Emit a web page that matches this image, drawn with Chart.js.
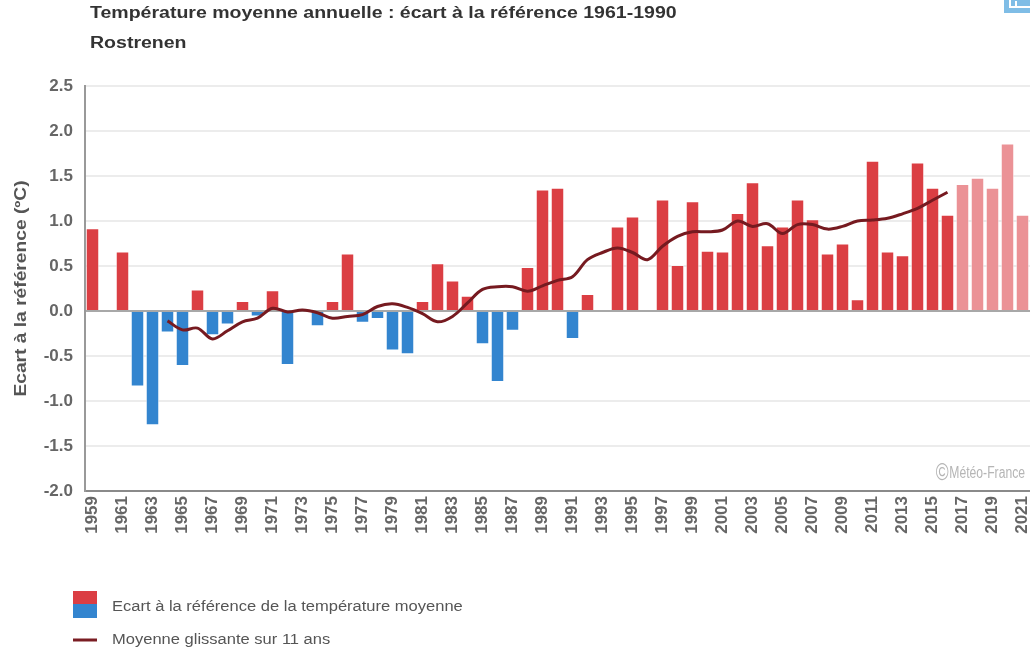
<!DOCTYPE html>
<html lang="fr">
<head>
<meta charset="utf-8">
<title>Rostrenen - écart à la référence 1961-1990</title>
<script src="https://cdn.jsdelivr.net/npm/chart.js@4.4.1/dist/chart.umd.min.js"></script>
<style>
  html, body { margin: 0; padding: 0; background: #fff; }
  #wrap { width: 1030px; height: 651px; }
</style>
</head>
<body>
<div id="wrap"><canvas id="tempChart" width="1030" height="651"></canvas></div>
<script>
// Years shown on the x axis
const years = [];
for (let y = 1959; y <= 2021; y++) years.push(String(y));

// Yearly anomaly vs 1961-1990 (°C); null = no value
const anomaly = [
  0.92, null, 0.66, -0.84, -1.27, -0.24, -0.61, 0.24, -0.27, -0.15,   // 1959-1968
  0.11, -0.06, 0.23, -0.60, null, -0.17, 0.11, 0.64, -0.13, -0.09,    // 1969-1978
  -0.44, -0.48, 0.11, 0.53, 0.34, 0.17, -0.37, -0.79, -0.22, 0.49,    // 1979-1988
  1.35, 1.37, -0.31, 0.19, null, 0.94, 1.05, null, 1.24, 0.51,        // 1989-1998
  1.22, 0.67, 0.66, 1.09, 1.43, 0.73, 0.94, 1.24, 1.02, 0.64,         // 1999-2008
  0.75, 0.13, 1.67, 0.66, 0.62, 1.65, 1.37, 1.07, 1.41, 1.48,         // 2009-2018
  1.37, 1.86, 1.07                                                    // 2019-2021
];

// 11-year moving average, only defined 1964-2016
const movingAvg = [
  null, null, null, null, null,                                        // 1959-1963
  -0.11, -0.21, -0.19, -0.31, -0.22, -0.12, -0.08, 0.03, -0.01, 0.01,  // 1964-1973
  -0.02, -0.08, -0.06, -0.04, 0.05, 0.08, 0.04, -0.03, -0.12, -0.06,   // 1974-1983
  0.09, 0.24, 0.27, 0.27, 0.22, 0.28, 0.34, 0.38, 0.57, 0.65,          // 1984-1993
  0.70, 0.65, 0.57, 0.72, 0.83, 0.88, 0.88, 0.90, 1.00, 0.94,          // 1994-2003
  0.97, 0.86, 0.96, 0.96, 0.91, 0.94, 1.00, 1.01, 1.03, 1.08,          // 2004-2013
  1.14, 1.23, 1.32,                                                    // 2014-2016
  null, null, null, null, null                                         // 2017-2021
];

const yTicks = [-2.0, -1.5, -1.0, -0.5, 0.0, 0.5, 1.0, 1.5, 2.0, 2.5];

const chartTitle = 'Température moyenne annuelle : écart à la référence 1961-1990';
const station = 'Rostrenen';
const yTitle = 'Ecart à la référence (ºC)';
const legendBars = 'Ecart à la référence de la température moyenne';
const legendLine = 'Moyenne glissante sur 11 ans';

const RED = '#db3e43';
const BLUE = '#3385cf';
const PINK = '#eb9296';
const FONT = '"Liberation Sans", Arial, sans-serif';

// bars from 2017 on are drawn lighter in the source
const barColors = anomaly.map((v, i) => {
  if (+years[i] >= 2017) return PINK;
  return v < 0 ? BLUE : RED;
});

// draw a text stretched along its direction (the source font looks wide)
function wideText(c, txt, x, y, sx) {
  c.save();
  c.translate(x, y);
  c.scale(sx, 1);
  c.fillText(txt, 0, 0);
  c.restore();
}

const decor = {
  id: 'decor',
  afterDraw(chart) {
    const c = chart.ctx;
    const area = chart.chartArea;
    c.save();
    c.textBaseline = 'middle';
    c.textAlign = 'left';

    // title + station
    c.fillStyle = '#333';
    c.font = 'bold 16px ' + FONT;
    wideText(c, chartTitle, 90, 14, 1.22);
    wideText(c, station, 90, 44, 1.22);

    // y axis title
    c.save();
    c.translate(22, (area.top + area.bottom) / 2);
    c.rotate(-Math.PI / 2);
    c.textAlign = 'center';
    c.fillStyle = '#555';
    c.font = 'bold 16px ' + FONT;
    c.scale(1.2, 1);
    c.fillText(yTitle, 0, 0);
    c.restore();

    // watermark
    c.fillStyle = '#b5b5b5';
    c.textAlign = 'right';
    c.font = '16px ' + FONT;
    const wm = 'Météo-France';
    c.save();
    c.translate(1025, 474);
    c.scale(0.76, 1);
    c.fillText(wm, 0, 0);
    const w = c.measureText(wm).width;
    c.font = '23px ' + FONT;
    c.fillText('©', -w - 1, 0);
    c.restore();

    // legend
    c.textAlign = 'left';
    c.fillStyle = RED;
    c.fillRect(73, 591, 24, 13);
    c.fillStyle = BLUE;
    c.fillRect(73, 604, 24, 14);
    c.strokeStyle = '#7a1d23';
    c.lineWidth = 3;
    c.beginPath();
    c.moveTo(73, 640);
    c.lineTo(97, 640);
    c.stroke();
    c.fillStyle = '#555';
    c.font = '14px ' + FONT;
    wideText(c, legendBars, 112, 607, 1.18);
    wideText(c, legendLine, 112, 640, 1.18);

    // export icon, cut by the top right corner
    c.fillStyle = '#7fbde6';
    c.fillRect(1004, 0, 26, 13);
    c.strokeStyle = '#fff';
    c.lineWidth = 2;
    c.beginPath();
    c.moveTo(1010, 0); c.lineTo(1010, 7); c.lineTo(1030, 7);
    c.moveTo(1016, 1); c.lineTo(1016, 6);
    c.stroke();
    c.restore();
  }
};

const ctx = document.getElementById('tempChart').getContext('2d');
const tempChart = new Chart(ctx, {
  data: {
    labels: years,
    datasets: [
      {
        type: 'line',
        label: legendLine,
        data: movingAvg,
        borderColor: '#761a20',
        borderWidth: 3,
        pointRadius: 0,
        tension: 0.35,
        fill: false,
        order: 0
      },
      {
        type: 'bar',
        label: legendBars,
        data: anomaly,
        backgroundColor: barColors,
        borderColor: 'rgba(255,255,255,0.55)',
        borderWidth: 1,
        barPercentage: 0.9,
        categoryPercentage: 1,
        order: 1
      }
    ]
  },
  options: {
    responsive: false,
    animation: false,
    layout: {
      autoPadding: false,
      padding: { top: 86, left: 0, right: 0, bottom: 0 }
    },
    plugins: {
      legend: { display: false },
      tooltip: { enabled: false }
    },
    scales: {
      x: {
        grid: { display: false, drawTicks: false },
        border: { display: true, color: '#8a8a8a', width: 2 },
        ticks: {
          autoSkip: false,
          minRotation: 90,
          maxRotation: 90,
          padding: 5,
          color: '#666',
          font: { family: FONT, size: 17, weight: 'bold' },
          callback: (v, i) => (i % 2 === 0 ? years[i] : '')
        },
        afterFit: s => {
          s.height = 160;
          s.paddingLeft = 0;
          s.paddingRight = 0;
        }
      },
      y: {
        min: -2,
        max: 2.5,
        afterBuildTicks: s => { s.ticks = yTicks.map(v => ({ value: v })); },
        grid: {
          drawTicks: false,
          lineWidth: 2,
          color: c => (c.tick && c.tick.value === 0 ? '#a8a8a8' : '#ececec')
        },
        border: { display: true, color: '#999', width: 2 },
        ticks: {
          padding: 12,
          color: '#666',
          font: { family: FONT, size: 17, weight: 'bold' },
          callback: v => v.toFixed(1)
        },
        afterFit: s => {
          s.width = 85;
          s.paddingTop = 0;
          s.paddingBottom = 0;
        }
      }
    }
  },
  plugins: [decor]
});
</script>
</body>
</html>
